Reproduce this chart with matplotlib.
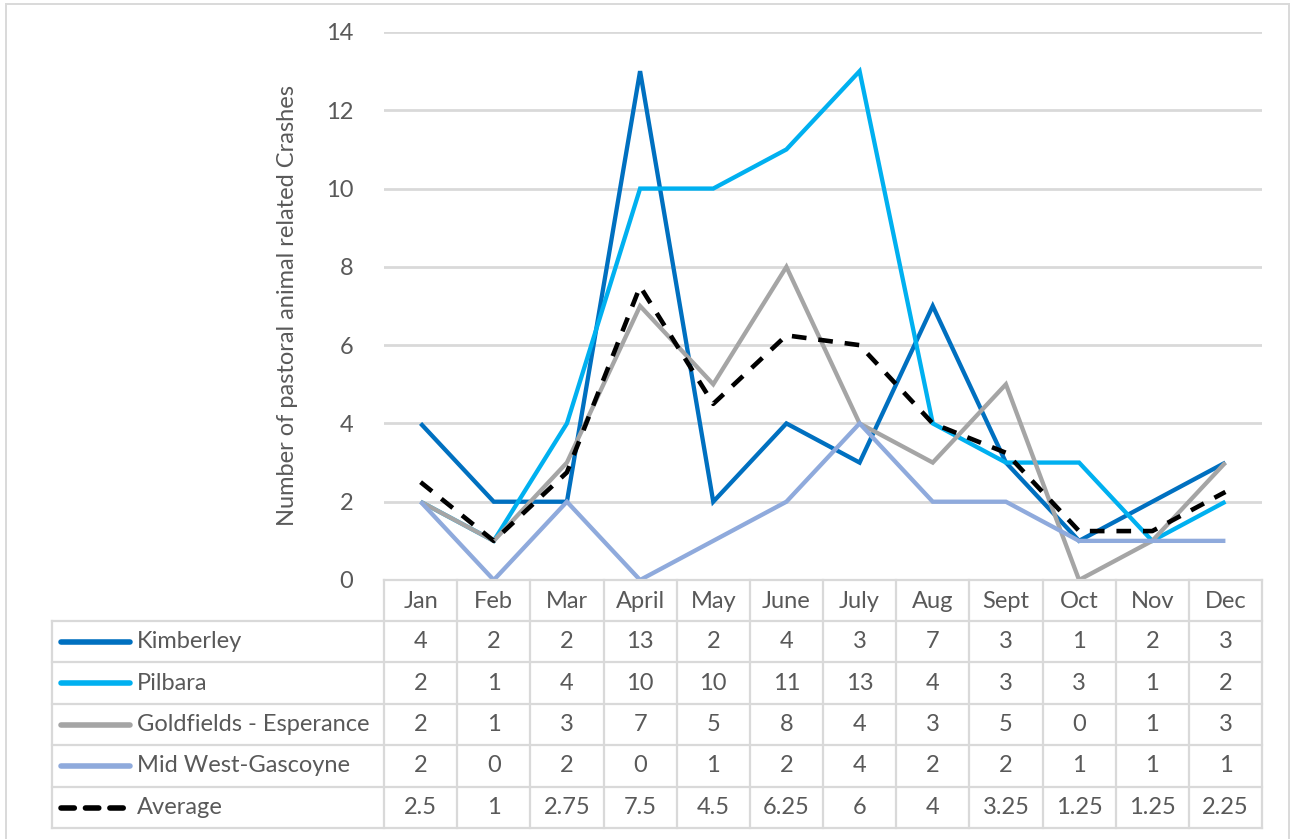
import numpy as np
import matplotlib.pyplot as plt
from matplotlib.lines import Line2D
from matplotlib.patches import Rectangle

plt.rcParams['font.family'] = ['Lato', 'DejaVu Sans']

# ── Data: pastoral animal related crashes by region and month ────────────────
months     = ['Jan', 'Feb', 'Mar', 'April', 'May', 'June', 'July', 'Aug',
              'Sept', 'Oct', 'Nov', 'Dec']
kimberley  = [4, 2, 2, 13, 2, 4, 3, 7, 3, 1, 2, 3]
pilbara    = [2, 1, 4, 10, 10, 11, 13, 4, 3, 3, 1, 2]
goldfields = [2, 1, 3, 7, 5, 8, 4, 3, 5, 0, 1, 3]
mid_west   = [2, 0, 2, 0, 1, 2, 4, 2, 2, 1, 1, 1]
average    = [2.5, 1, 2.75, 7.5, 4.5, 6.25, 6, 4, 3.25, 1.25, 1.25, 2.25]

series_names  = ['Kimberley', 'Pilbara', 'Goldfields - Esperance',
                 'Mid West-Gascoyne', 'Average']
series_values = [kimberley, pilbara, goldfields, mid_west, average]

colors = ['#0070C0', '#00B0F0', '#A5A5A5', '#8FAADC', '#000000']
styles = ['-', '-', '-', '-', (0, (3.2, 2.6))]

TEXT = '#595959'
GRID = '#D9D9D9'
FS = 17

W, H = 1291, 839
fig = plt.figure(figsize=(W / 100, H / 100), dpi=100)

# plot area in pixel coordinates
x0, x1 = 384, 1262
y_top, y_bot = 32, 580
ax = fig.add_axes([x0 / W, 1 - y_bot / H, (x1 - x0) / W, (y_bot - y_top) / H])

xs = np.arange(len(months))
for vals, c, ls in zip(series_values, colors, styles):
    lw = 3.1 if ls == '-' else 3.3
    ax.plot(xs, vals, color=c, linestyle=ls, linewidth=lw,
            solid_joinstyle='miter', solid_capstyle='butt', zorder=3)

ax.set_xlim(-0.5, len(months) - 0.5)
ax.set_ylim(0, 14)
ax.set_yticks(range(0, 15, 2))
ax.set_xticks([])
ax.yaxis.grid(True, color=GRID, linewidth=2.0)
ax.set_axisbelow(True)
for s in ax.spines.values():
    s.set_visible(False)
ax.tick_params(axis='y', length=0, pad=22, labelsize=FS, labelcolor=TEXT)
ax.set_ylabel('Number of pastoral animal related Crashes', fontsize=FS,
              color=TEXT, labelpad=20)

# ── Data table under the plot ────────────────────────────────────────────────
px = lambda x, y: (x / W, 1 - y / H)
tab_left = 52
col_w = (x1 - x0) / len(months)
row_edges = [580, 621, 662, 704, 745, 787, 828]

def hline(xa, xb, y):
    fig.add_artist(Line2D([xa / W, xb / W], [1 - y / H, 1 - y / H],
                          color=GRID, linewidth=1.6))

def vline(x, ya, yb):
    fig.add_artist(Line2D([x / W, x / W], [1 - ya / H, 1 - yb / H],
                          color=GRID, linewidth=1.6))

hline(x0, x1, row_edges[0])
for y in row_edges[1:]:
    hline(tab_left, x1, y)
vline(tab_left, row_edges[1], row_edges[-1])
for i in range(len(months) + 1):
    vline(x0 + i * col_w, row_edges[0], row_edges[-1])

# month header
for i, m in enumerate(months):
    cx = x0 + (i + 0.5) * col_w
    cy = (row_edges[0] + row_edges[1]) / 2 + 1
    fig.text(*px(cx, cy), m, ha='center', va='center', fontsize=FS, color=TEXT)

# one row per series: legend key, name, values
for r, (name, vals, c, ls) in enumerate(zip(series_names, series_values,
                                            colors, styles)):
    cy = (row_edges[r + 1] + row_edges[r + 2]) / 2
    fig.add_artist(Line2D([61 / W, 130 / W], [1 - cy / H, 1 - cy / H],
                          color=c, linestyle=ls if ls == '-' else (0, (2.4, 2.0)),
                          linewidth=4.0, solid_capstyle='round',
                          dash_capstyle='round'))
    fig.text(*px(137, cy), name, ha='left', va='center', fontsize=FS, color=TEXT)
    for i, v in enumerate(vals):
        cx = x0 + (i + 0.5) * col_w
        fig.text(*px(cx, cy), f'{v:g}', ha='center', va='center',
                 fontsize=FS, color=TEXT)

# chart area border
fig.add_artist(Rectangle((6 / W, -0.01), (1289 - 6) / W, 1 - 3.5 / H + 0.01,
                         fill=False, edgecolor=GRID, linewidth=1.4))

plt.savefig('out.png', dpi=100)
